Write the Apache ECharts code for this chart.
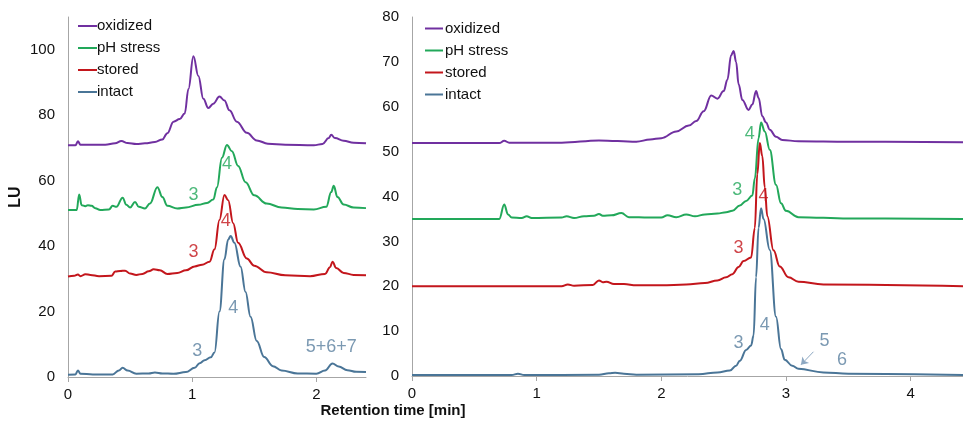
<!DOCTYPE html>
<html>
<head>
<meta charset="utf-8">
<script src="https://cdn.jsdelivr.net/npm/echarts@6/dist/echarts.min.js"></script>
<style>
  html, body { margin: 0; padding: 0; background: #fff; }
  #chart { width: 963px; height: 427px; }
</style>
</head>
<body>
<div id="chart"></div>
<script>
  // 系列名称
  var names = ['oxidized', 'pH stress', 'stored', 'intact']

  // 左图 (0 - 2.4 min)
  var leftOxidized = [[0,70.8],[0.06,70.8],[0.08,72],[0.1,71],[0.3,71],[0.38,71.4],[0.43,72.1],[0.48,71.5],[0.55,71.2],[0.62,71.4],[0.7,71.8],[0.76,72.6],[0.8,74.5],[0.85,78],[0.9,78.8],[0.94,80.5],[0.97,88],[1.01,98],[1.05,92],[1.09,85],[1.13,82.2],[1.17,83.5],[1.22,85.7],[1.26,84.5],[1.3,81.5],[1.36,78],[1.44,74.6],[1.52,72.3],[1.61,71.3],[1.75,71],[1.98,70.8],[2.05,71.2],[2.1,73],[2.12,74],[2.15,73],[2.22,72.2],[2.3,71.6],[2.4,71.4]]
  var leftPh = [[0,51],[0.07,51],[0.09,55.8],[0.11,52.5],[0.14,52.2],[0.16,52.5],[0.19,52.3],[0.22,51.6],[0.26,51],[0.33,51.2],[0.36,52.3],[0.39,52],[0.44,54.8],[0.47,52.6],[0.5,51.8],[0.54,53.5],[0.57,52],[0.62,51.5],[0.66,53],[0.72,58],[0.76,55],[0.8,52.3],[0.88,51.5],[0.95,51.8],[1.05,52.6],[1.12,53.2],[1.17,54.2],[1.2,58],[1.24,67],[1.28,70.9],[1.32,69],[1.37,64.5],[1.43,59.5],[1.5,55.5],[1.6,53],[1.72,51.8],[1.85,51.3],[1.98,51.2],[2.08,52],[2.12,56.5],[2.14,58.4],[2.17,55],[2.22,52.7],[2.3,51.8],[2.4,51.6]]
  var leftStored = [[0,30.7],[0.05,30.9],[0.08,31.3],[0.1,30.8],[0.14,31.4],[0.18,31.2],[0.25,30.8],[0.35,30.9],[0.38,32.2],[0.42,32.4],[0.46,32.5],[0.5,31.6],[0.55,31.2],[0.6,31.5],[0.65,32.3],[0.69,32.9],[0.74,32.6],[0.8,31.5],[0.88,31.8],[0.95,32.6],[1.02,33.8],[1.08,34.3],[1.14,35.2],[1.18,39],[1.22,48],[1.26,55.6],[1.29,54],[1.33,47],[1.37,41],[1.44,36.2],[1.5,34],[1.6,32],[1.75,31.1],[1.95,30.8],[2.07,31.5],[2.11,33.5],[2.13,35.2],[2.16,33.3],[2.22,31.8],[2.3,31.2],[2.4,31.1]]
  var leftIntact = [[0,0.7],[0.06,0.8],[0.08,2],[0.1,1],[0.2,0.8],[0.36,0.8],[0.41,2],[0.44,2.8],[0.48,2],[0.55,1],[0.65,1.1],[0.7,1.4],[0.76,1.1],[0.85,1],[0.95,1.5],[1.02,2.8],[1.06,4.2],[1.1,5.1],[1.15,6],[1.18,7.5],[1.22,20],[1.26,36],[1.29,42],[1.31,43.1],[1.34,41],[1.39,33.7],[1.43,26],[1.47,18.4],[1.52,11],[1.58,6.1],[1.65,3.3],[1.72,2],[1.85,1.1],[2.0,1],[2.07,2],[2.13,4.1],[2.18,3.2],[2.25,2.1],[2.32,1.6],[2.4,1.5]]

  // 右图 (0 - 4.4 min)
  var rightOxidized = [[0,51.9],[0.7,51.9],[0.74,52.4],[0.78,52],[1.2,52],[1.5,52.5],[1.8,52.2],[1.91,52.7],[2.0,53],[2.12,54.5],[2.22,55.8],[2.28,56.8],[2.34,59],[2.4,62.5],[2.45,61.8],[2.5,63.5],[2.53,66],[2.56,71.5],[2.58,72.4],[2.6,70],[2.62,65],[2.65,61.5],[2.7,59.3],[2.73,60.5],[2.76,63.5],[2.78,62],[2.81,57.9],[2.84,56.5],[2.87,54.9],[2.92,53.3],[2.97,52.6],[3.1,52.3],[3.5,52.2],[4.42,52.1]]
  var rightPh = [[0,35],[0.7,35],[0.74,38.2],[0.77,36],[0.8,35.3],[0.88,35.2],[0.92,35.6],[0.96,35.2],[1.2,35.3],[1.24,35.6],[1.3,35.2],[1.38,35.6],[1.46,35.7],[1.5,36.1],[1.53,35.7],[1.6,35.8],[1.68,36.3],[1.74,35.4],[1.9,35.3],[2.0,35.3],[2.05,35.8],[2.12,35.4],[2.2,36],[2.27,35.6],[2.35,36],[2.45,36.2],[2.52,36.5],[2.57,36.8],[2.63,38],[2.68,39],[2.73,40.2],[2.75,44],[2.78,53],[2.8,56.5],[2.83,54.5],[2.87,50.4],[2.92,42.6],[2.96,38.5],[3.0,36.8],[3.1,35.4],[3.5,35.1],[4.42,35]]
  var rightStored = [[0,20],[1.2,20],[1.25,20.4],[1.3,20.1],[1.45,20.3],[1.5,21.3],[1.53,20.9],[1.56,21],[1.62,20.5],[1.7,20.5],[1.8,20.2],[2.0,20.2],[2.2,20.4],[2.35,20.7],[2.45,21.3],[2.52,22],[2.57,22.7],[2.62,24.3],[2.66,25.6],[2.72,26.4],[2.75,33],[2.77,45],[2.79,51.9],[2.81,49],[2.83,42],[2.85,35.6],[2.9,28],[2.95,24.4],[3.02,22],[3.1,21],[3.3,20.4],[4.42,20]]
  var rightIntact = [[0,0.2],[0.8,0.2],[0.85,0.5],[0.9,0.2],[1.5,0.3],[1.58,0.6],[1.63,0.7],[1.7,0.5],[1.8,0.3],[2.3,0.4],[2.45,0.8],[2.55,1.2],[2.6,2.3],[2.63,3.4],[2.68,5.8],[2.72,6.8],[2.74,9],[2.76,22],[2.78,33],[2.8,37.4],[2.82,35],[2.87,28.1],[2.92,13.2],[2.96,6],[2.99,3.6],[3.05,2.3],[3.1,1.6],[3.3,0.8],[3.5,0.5],[4.42,0.2]]

  // 峰标注 [x, y, 文字]
  var leftPhNotes = [[1.01,55.6,'3'],[1.28,65.1,'4']]
  var leftStoredNotes = [[1.01,38.3,'3'],[1.27,47.7,'4']]
  var leftIntactNotes = [[1.04,8.0,'3'],[1.33,21,'4'],[2.12,9.2,'5+6+7']]
  var rightPhNotes = [[2.61,41.5,'3'],[2.71,53.9,'4']]
  var rightStoredNotes = [[2.62,28.5,'3'],[2.82,40,'4']]
  var rightIntactNotes = [[2.62,7.4,'3'],[2.83,11.4,'4'],[3.31,7.9,'5'],[3.45,3.6,'6']]
  var arrowFrom = [3.22,5.4]
  var arrowTo = [3.12,2.5]

  // 刻度
  var leftXTicks = [0,1,2]
  var rightXTicks = [0,1,2,3,4]

  var colors = ['#7030A0','#22A85A','#C3161C','#4A7597']
  var font = 'Liberation Sans, Arial, sans-serif'

  var myChart = echarts.init(document.getElementById('chart'))

  function lineSeries(name, data, idx, colorIdx) {
    return {
      name: name,
      type: 'line',
      xAxisIndex: idx,
      yAxisIndex: idx,
      data: data,
      symbol: 'none',
      smooth: 0.4,
      smoothMonotone: 'x',
      lineStyle: { width: 2, color: colors[colorIdx] },
      itemStyle: { color: colors[colorIdx] },
      z: 3
    }
  }

  function noteSeries(notes, idx, colorIdx) {
    return {
      type: 'scatter',
      xAxisIndex: idx,
      yAxisIndex: idx,
      data: notes,
      symbolSize: 0,
      silent: true,
      z: 5,
      label: {
        show: true,
        position: 'inside',
        formatter: function (p) { return p.data[2] },
        color: colorIdx === 3 ? '#5A7F9F' : colors[colorIdx],
        fontSize: 18,
        fontFamily: font
      }
    }
  }

  function xAxis(gridIndex, max, ticks) {
    return {
      type: 'value',
      gridIndex: gridIndex,
      min: 0,
      max: max,
      interval: 1,
      splitLine: { show: false },
      axisLine: { show: true, lineStyle: { color: '#A6A6A6', width: 1 } },
      axisTick: { show: true, length: 5, customValues: ticks, lineStyle: { color: '#A6A6A6' } },
      axisLabel: { customValues: ticks, color: '#111', fontSize: 15, fontFamily: font, margin: 10 }
    }
  }

  function yAxis(gridIndex, max, interval, name) {
    return {
      type: 'value',
      gridIndex: gridIndex,
      min: 0,
      max: max,
      interval: interval,
      name: name,
      nameLocation: 'middle',
      nameGap: 44,
      nameTextStyle: { fontSize: 16, fontWeight: 'bold', color: '#111', fontFamily: font },
      splitLine: { show: false },
      axisLine: { show: true, lineStyle: { color: '#A6A6A6', width: 1 } },
      axisTick: { show: false },
      axisLabel: { color: '#111', fontSize: 15, fontFamily: font, margin: 13, showMaxLabel: max % interval === 0 }
    }
  }

  function legend(left, top, w, shift) {
    return {
      data: names,
      orient: 'vertical',
      left: left,
      top: top,
      padding: 0,
      itemGap: 7,
      itemWidth: w,
      itemHeight: 2,
      icon: 'rect',
      selectedMode: false,
      textStyle: { fontSize: 15, color: '#111', fontFamily: font, padding: [0, 0, 0, shift] }
    }
  }

  myChart.setOption({
    animation: false,
    backgroundColor: '#fff',
    grid: [
      { left: 68, top: 17, width: 298, height: 360 },
      { left: 412, top: 17, right: 0, height: 359 }
    ],
    legend: [legend(78, 18.5, 19, -5), legend(425, 21, 18, -3)],
    xAxis: [xAxis(0, 2.4, leftXTicks), xAxis(1, 4.42, rightXTicks)],
    yAxis: [yAxis(0, 110, 20, 'LU'), yAxis(1, 80, 10, '')],
    graphic: [{
      type: 'text',
      x: 393,
      y: 411,
      style: {
        text: 'Retention time [min]',
        font: 'bold 15px ' + font,
        fill: '#111',
        align: 'center',
        verticalAlign: 'middle'
      }
    }],
    series: [
      lineSeries(names[0], leftOxidized, 0, 0),
      lineSeries(names[1], leftPh, 0, 1),
      lineSeries(names[2], leftStored, 0, 2),
      lineSeries(names[3], leftIntact, 0, 3),
      lineSeries(names[0], rightOxidized, 1, 0),
      lineSeries(names[1], rightPh, 1, 1),
      lineSeries(names[2], rightStored, 1, 2),
      Object.assign(lineSeries(names[3], rightIntact, 1, 3), {
        markLine: {
          silent: true,
          symbol: ['none', 'arrow'],
          symbolSize: 7,
          label: { show: false },
          lineStyle: { color: '#8DA8C2', width: 1, type: 'solid' },
          data: [[{ coord: arrowFrom }, { coord: arrowTo }]]
        }
      }),
      noteSeries(leftPhNotes, 0, 1),
      noteSeries(leftStoredNotes, 0, 2),
      noteSeries(leftIntactNotes, 0, 3),
      noteSeries(rightPhNotes, 1, 1),
      noteSeries(rightStoredNotes, 1, 2),
      noteSeries(rightIntactNotes, 1, 3)
    ]
  })
</script>
</body>
</html>
